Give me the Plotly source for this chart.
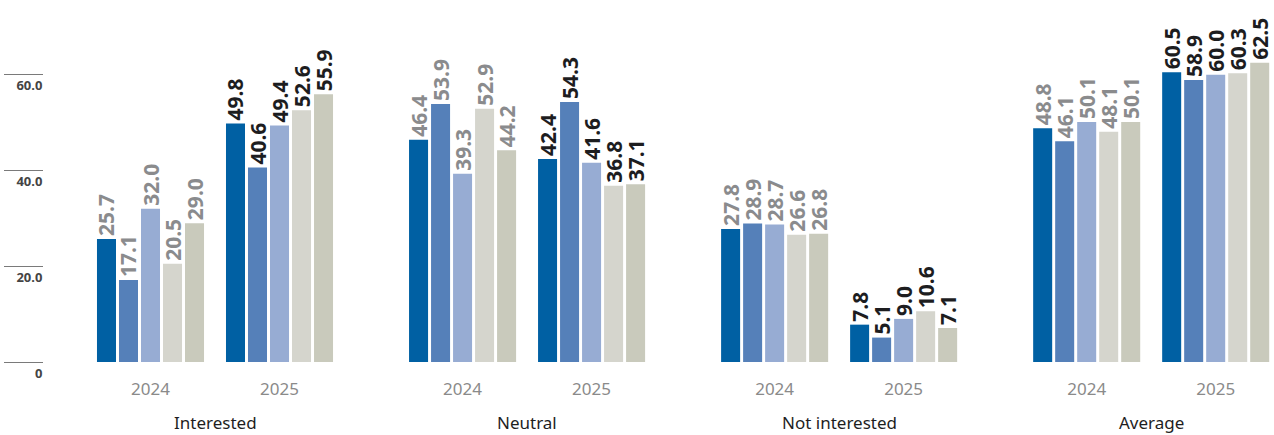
import plotly.graph_objects as go

groups = ["Interested", "Neutral", "Not interested", "Average"]
years = ["2024", "2025"]
series_names = ["Series 1", "Series 2", "Series 3", "Series 4", "Series 5"]
colors = ["#0060a3", "#5580b9", "#97acd3", "#d5d5cd", "#c9cabc"]

# values[group][year] -> 5 series
interested = [[25.7, 17.1, 32.0, 20.5, 29.0], [49.8, 40.6, 49.4, 52.6, 55.9]]
neutral = [[46.4, 53.9, 39.3, 52.9, 44.2], [42.4, 54.3, 41.6, 36.8, 37.1]]
not_interested = [[27.8, 28.9, 28.7, 26.6, 26.8], [7.8, 5.1, 9.0, 10.6, 7.1]]
average = [[48.8, 46.1, 50.1, 48.1, 50.1], [60.5, 58.9, 60.0, 60.3, 62.5]]
data = [interested, neutral, not_interested, average]

y_tickvals = [0, 20, 40, 60]
y_ticktext = ["0", "20.0", "40.0", "60.0"]
label_colors = {"2024": "#8a8b8d", "2025": "#1d1d1f"}

GROUP_PITCH = 2.419
xpos = []
xlabels = []
ycolors = []
for g in range(len(groups)):
    for s, yr in enumerate(years):
        xpos.append(g * GROUP_PITCH + s)
        xlabels.append(yr)
        ycolors.append(label_colors[yr])

fig = go.Figure()
for k, name in enumerate(series_names):
    vals = [data[g][s][k] for g in range(len(groups)) for s in range(len(years))]
    fig.add_trace(go.Bar(
        x=xpos, y=vals, name=name,
        marker=dict(color=colors[k], line=dict(width=0)),
        text=[f"{v:.1f}" for v in vals],
        textposition="outside", textangle=-90,
        constraintext="none", cliponaxis=False,
        textfont=dict(family="Noto Sans", size=21, color=ycolors, weight="bold"),
        hoverinfo="skip",
    ))

for g, name in enumerate(groups):
    fig.add_annotation(
        x=g * GROUP_PITCH + 0.5, xref="x", y=0, yref="paper",
        yshift=-74, text=name, showarrow=False,
        font=dict(family="Noto Sans", size=17, color="#1e1e1e"),
    )

fig.update_layout(
    width=1274, height=435,
    margin=dict(l=44, r=0, t=0, b=73),
    paper_bgcolor="white", plot_bgcolor="white",
    barmode="group", bargap=0.147, bargroupgap=0.136,
    showlegend=False,
    xaxis=dict(
        range=[-0.8256, 8.709], tickvals=xpos, ticktext=xlabels,
        showgrid=False, zeroline=False, showline=False, ticks="",
        tickfont=dict(family="Noto Sans", size=17, color="#8a8a8a"),
        ticklabelstandoff=15,
    ),
    yaxis=dict(
        range=[0, 75.6], tickvals=y_tickvals, ticktext=y_ticktext,
        showgrid=False, zeroline=False, showline=False,
        ticks="outside", ticklen=39, tickcolor="#7a7a7a", tickwidth=1,
        tickfont=dict(family="Noto Sans", size=13, color="#444444", weight="bold"),
        ticklabelstandoff=-41, ticklabelshift=11,
    ),
)

fig.write_html("out.html", config={"displayModeBar": False},
               post_script="document.body.style.margin='0';")
